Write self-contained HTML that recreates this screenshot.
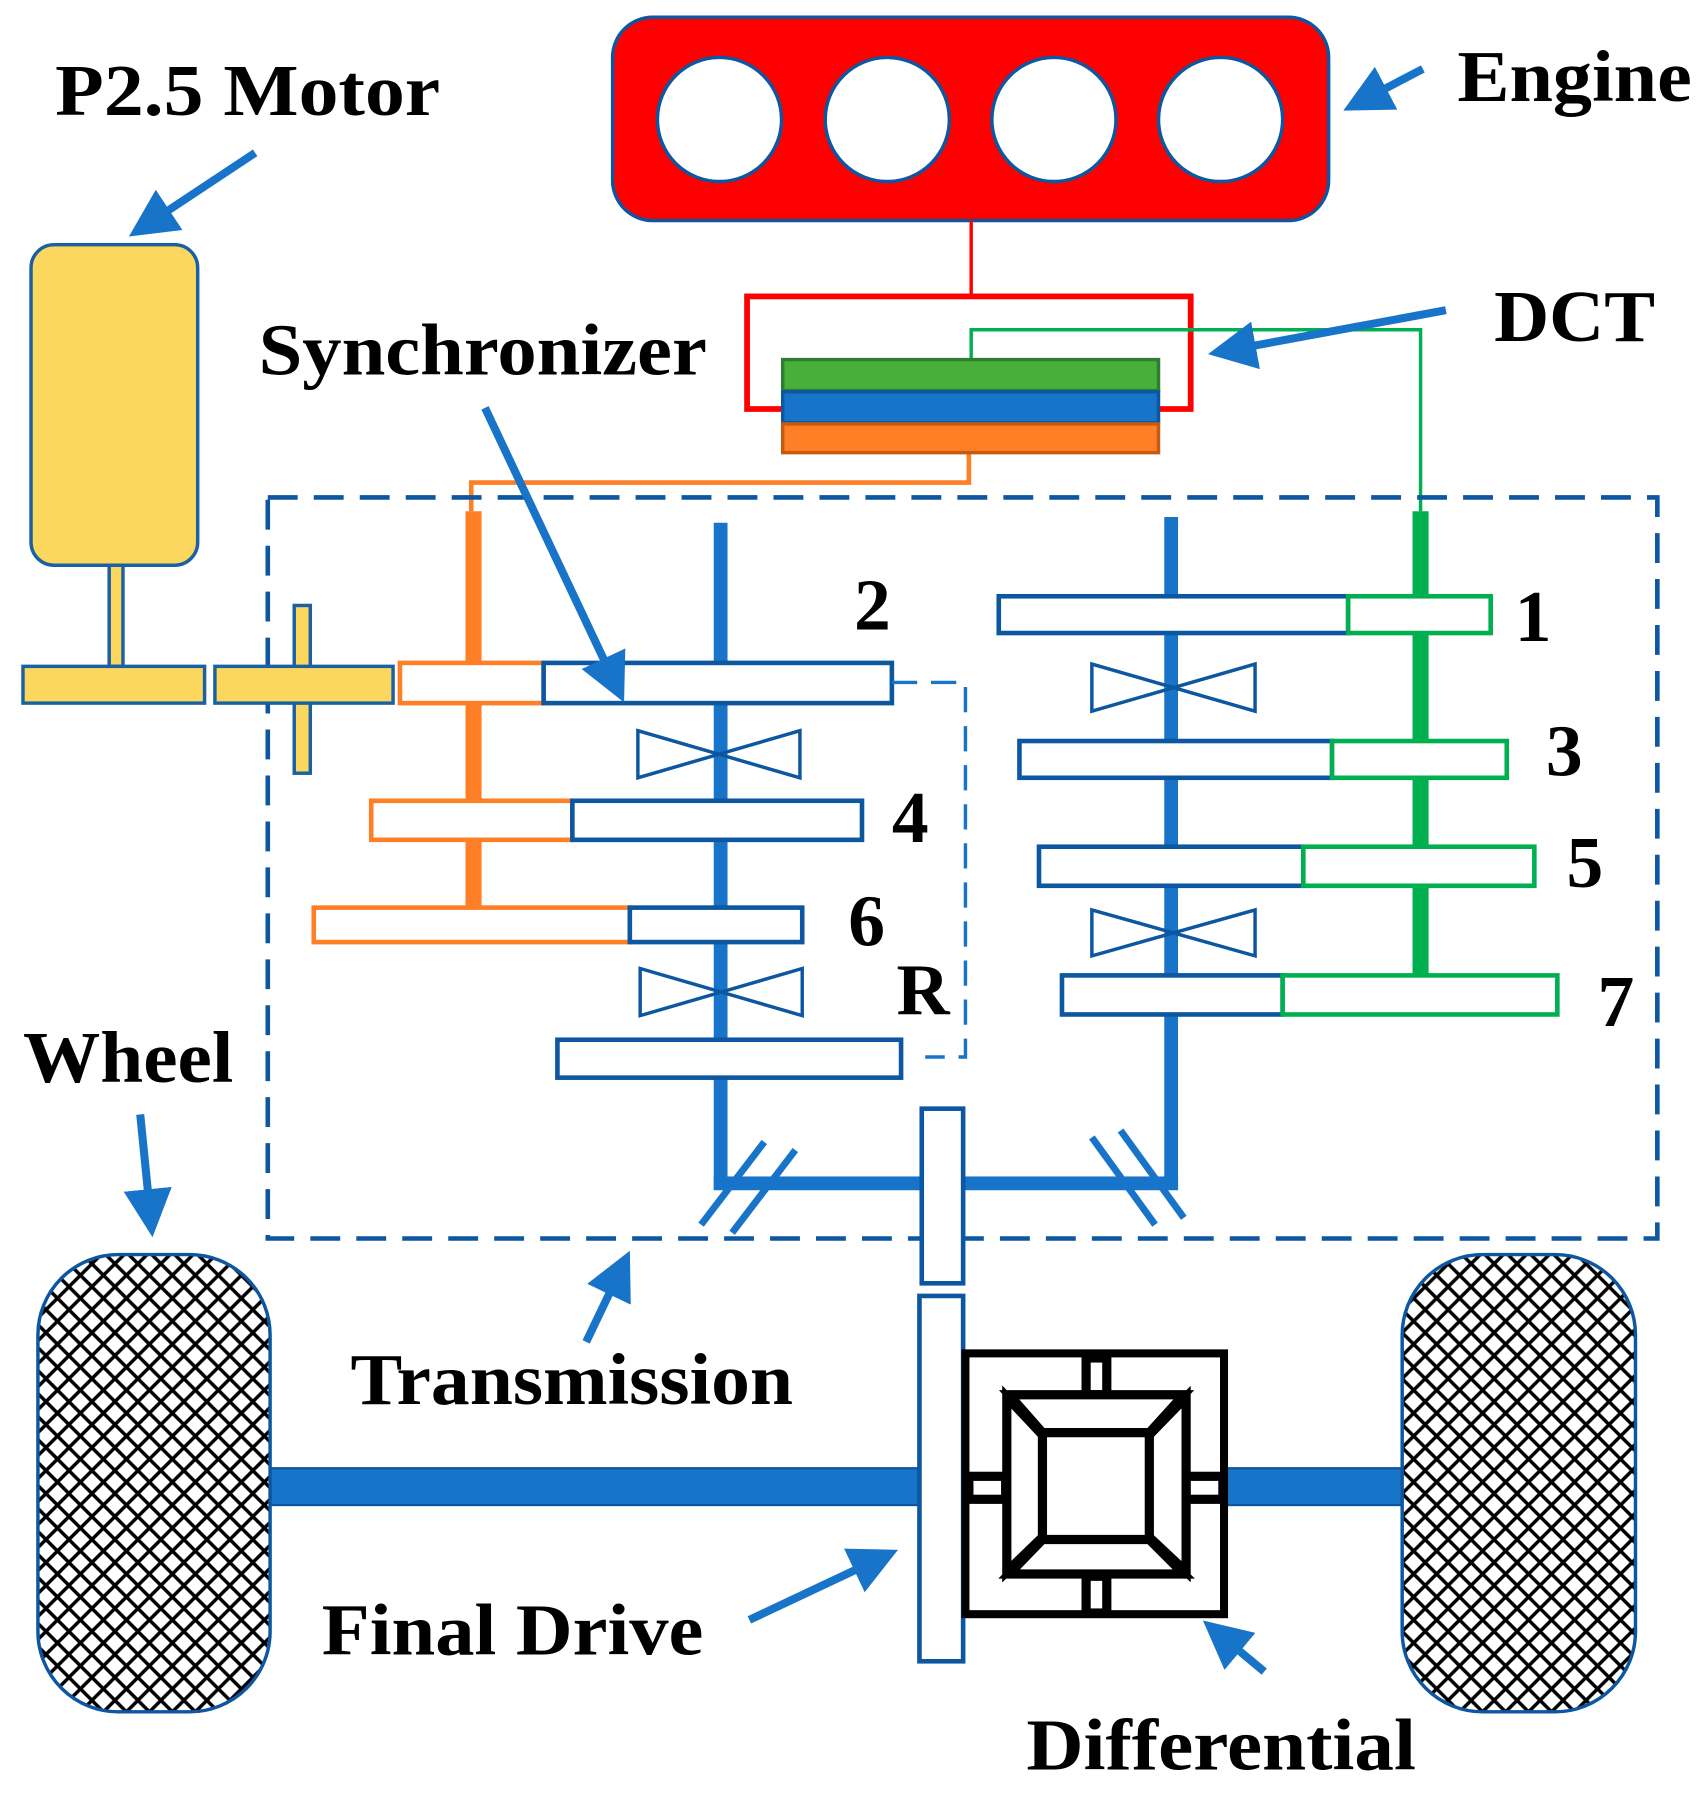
<!DOCTYPE html>
<html><head><meta charset="utf-8"><style>html,body{margin:0;padding:0;background:#fff}svg{display:block}</style></head><body>
<svg width="1701" height="1798" viewBox="0 0 1480 1565" preserveAspectRatio="none" xmlns="http://www.w3.org/2000/svg">
<defs>
<pattern id="hatch" width="20" height="20" patternUnits="userSpaceOnUse">
<rect width="20" height="20" fill="#fff"/>
<path d="M0 0L20 20M20 0L0 20" stroke="#000" stroke-width="3"/>
</pattern>
<marker id="ah" markerWidth="6" markerHeight="6" refX="5" refY="3" orient="auto" markerUnits="strokeWidth"><path d="M0 0L6 3L0 6z" fill="#1874c8"/></marker>
</defs>
<g font-family="Liberation Serif, serif" font-weight="bold" font-size="64" fill="#000" lengthAdjust="spacingAndGlyphs">
<text x="48" y="100" textLength="335" lengthAdjust="spacingAndGlyphs">P2.5 Motor</text>
<text x="1268" y="88" textLength="204" lengthAdjust="spacingAndGlyphs">Engine</text>
<text x="1300" y="297" textLength="140" lengthAdjust="spacingAndGlyphs">DCT</text>
<text x="225" y="326" textLength="390" lengthAdjust="spacingAndGlyphs">Synchronizer</text>
<text x="20" y="942" textLength="183" lengthAdjust="spacingAndGlyphs">Wheel</text>
<text x="305" y="1222" textLength="385" lengthAdjust="spacingAndGlyphs">Transmission</text>
<text x="280" y="1440" textLength="332" lengthAdjust="spacingAndGlyphs">Final Drive</text>
<text x="893" y="1540" textLength="339" lengthAdjust="spacingAndGlyphs">Differential</text>
<text x="743" y="548">2</text><text x="1318" y="558">1</text><text x="1345" y="675">3</text>
<text x="776" y="733">4</text><text x="1363" y="772">5</text><text x="738" y="823">6</text>
<text x="780" y="883">R</text><text x="1390" y="893">7</text>
</g>
<!-- engine -->
<rect x="533" y="15" width="623" height="177" rx="35" fill="#ff0000" stroke="#0d56a0" stroke-width="3"/>
<g fill="#fff" stroke="#0d56a0" stroke-width="3"><circle cx="626" cy="104" r="54"/><circle cx="772" cy="104" r="54"/><circle cx="917" cy="104" r="54"/><circle cx="1062" cy="104" r="54"/></g>
<line x1="845" y1="192" x2="845" y2="258" stroke="#ff0000" stroke-width="3"/>
<rect x="650" y="258" width="386" height="98" fill="none" stroke="#ff0000" stroke-width="5"/>
<polyline points="845,313 845,287 1236,287 1236,445" fill="none" stroke="#00b050" stroke-width="3"/>
<polyline points="843,394 843,420 410,420 410,445" fill="none" stroke="#ff7f27" stroke-width="4"/>
<rect x="681" y="313" width="327" height="27" fill="#46b03a" stroke="#2e7d32" stroke-width="3"/>
<rect x="681" y="341" width="327" height="27" fill="#1874c8" stroke="#0d56a0" stroke-width="3"/>
<rect x="681" y="369" width="327" height="25" fill="#ff7f27" stroke="#c55a11" stroke-width="3"/>
<!-- transmission box -->
<rect x="233" y="433" width="1209" height="645" fill="none" stroke="#0d56a0" stroke-width="4" stroke-dasharray="26 14"/>
<rect x="1229" y="445" width="14" height="405" fill="#00b050"/>
<rect x="405" y="445" width="14" height="375" fill="#ff7f27"/>
<rect x="621" y="455" width="12" height="580" fill="#1874c8"/>
<rect x="1013" y="450" width="12" height="585" fill="#1874c8"/>
<rect x="621" y="1024" width="404" height="12" fill="#1874c8"/>
<g fill="#fff" stroke-width="4">
<rect x="348" y="577" width="125" height="35" stroke="#ff7f27"/><rect x="473" y="577" width="303" height="35" stroke="#0d56a0"/>
<rect x="323" y="697" width="175" height="34" stroke="#ff7f27"/><rect x="498" y="697" width="252" height="34" stroke="#0d56a0"/>
<rect x="273" y="790" width="275" height="30" stroke="#ff7f27"/><rect x="548" y="790" width="150" height="30" stroke="#0d56a0"/>
<rect x="485" y="905" width="299" height="33" stroke="#0d56a0"/>
<rect x="869" y="519" width="304" height="32" stroke="#0d56a0"/><rect x="1173" y="519" width="124" height="32" stroke="#00b050"/>
<rect x="887" y="645" width="272" height="32" stroke="#0d56a0"/><rect x="1159" y="645" width="152" height="32" stroke="#00b050"/>
<rect x="904" y="737" width="230" height="34" stroke="#0d56a0"/><rect x="1134" y="737" width="201" height="34" stroke="#00b050"/>
<rect x="924" y="849" width="192" height="34" stroke="#0d56a0"/><rect x="1116" y="849" width="239" height="34" stroke="#00b050"/>
</g>
<g fill="none" stroke="#0d56a0" stroke-width="3">
<path d="M555 636L696 677V636L555 677Z"/>
<path d="M557 843L698 884V843L557 884Z"/>
<path d="M950 578L1092 619V578L950 619Z"/>
<path d="M950 792L1092 832V792L950 832Z"/>
</g>
<polyline points="776,594 840,594 840,920 805,920" fill="none" stroke="#1874c8" stroke-width="3" stroke-dasharray="22 12"/>
<g stroke="#1874c8" stroke-width="6">
<line x1="610" y1="1066" x2="665" y2="994"/><line x1="637" y1="1073" x2="692" y2="1001"/>
<line x1="950" y1="990" x2="1005" y2="1066"/><line x1="975" y1="984" x2="1030" y2="1060"/>
</g>
<!-- axle -->
<rect x="235" y="1278" width="565" height="32" fill="#1874c8" stroke="#0d56a0" stroke-width="2"/>
<rect x="1065" y="1278" width="155" height="32" fill="#1874c8" stroke="#0d56a0" stroke-width="2"/>
<rect x="802" y="965" width="36" height="152" fill="#fff" stroke="#0d56a0" stroke-width="4"/>
<rect x="800" y="1128" width="38" height="318" fill="#fff" stroke="#0d56a0" stroke-width="4"/>
<!-- differential -->
<rect x="840" y="1178" width="225" height="227" fill="#fff" stroke="#000" stroke-width="7"/>
<g fill="#fff" stroke="#000" stroke-width="8">
<rect x="945" y="1182" width="18" height="32"/><rect x="945" y="1372" width="18" height="32"/>
<rect x="843" y="1285" width="32" height="20"/><rect x="1032" y="1285" width="32" height="20"/>
<path d="M878 1214H1030L1000 1247H907Z"/>
<path d="M878 1370H1030L1000 1340H907Z"/>
<path d="M876 1216V1368L907 1338V1249Z"/>
<path d="M1032 1216V1368L1000 1338V1249Z"/>
</g>
<!-- motor -->
<rect x="27" y="213" width="145" height="279" rx="20" fill="#fcd75d" stroke="#1b5fa5" stroke-width="3"/>
<g fill="#fcd75d" stroke="#1b5fa5" stroke-width="3">
<rect x="95" y="492" width="12" height="88"/>
<rect x="20" y="580" width="158" height="32"/>
<rect x="256" y="527" width="14" height="146"/>
<rect x="187" y="580" width="155" height="32"/>
</g>
<!-- wheels -->
<rect x="33" y="1092" width="202" height="398" rx="70" fill="url(#hatch)" stroke="#0d56a0" stroke-width="3"/>
<rect x="1220" y="1092" width="203" height="398" rx="70" fill="url(#hatch)" stroke="#0d56a0" stroke-width="3"/>
<!-- arrows -->
<g stroke="#1874c8" stroke-width="7" marker-end="url(#ah)" fill="none">
<line x1="222" y1="133" x2="118" y2="202"/>
<line x1="1238" y1="60" x2="1175" y2="93"/>
<line x1="1258" y1="270" x2="1058" y2="307"/>
<line x1="422" y1="355" x2="540" y2="605"/>
<line x1="122" y1="970" x2="132" y2="1070"/>
<line x1="510" y1="1168" x2="545" y2="1095"/>
<line x1="652" y1="1410" x2="775" y2="1352"/>
<line x1="1100" y1="1455" x2="1052" y2="1415"/>
</g>
</svg>
</body></html>
